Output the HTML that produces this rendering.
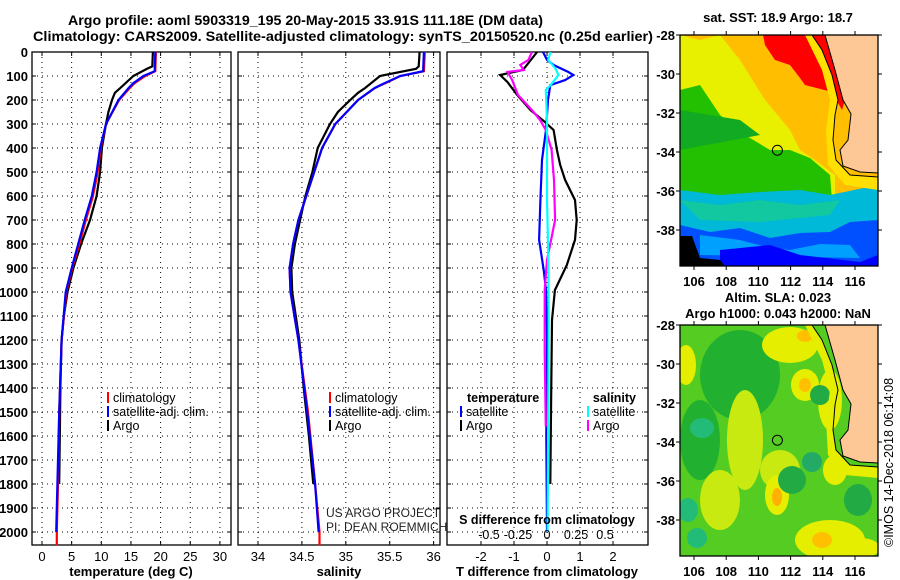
<!DOCTYPE html>
<html><head><meta charset="utf-8"><style>
html,body{margin:0;padding:0;background:#fff}
svg{display:block;font-family:"Liberation Sans",sans-serif}
.b{font-weight:bold}
</style></head><body>
<svg id="s" width="900" height="580" viewBox="0 0 900 580">
<text class="b" x="68" y="25" font-size="14" textLength="475" lengthAdjust="spacingAndGlyphs">Argo profile: aoml 5903319_195 20-May-2015 33.91S 111.18E (DM data)</text>
<text class="b" x="33" y="41" font-size="14" textLength="620" lengthAdjust="spacingAndGlyphs">Climatology: CARS2009. Satellite-adjusted climatology: synTS_20150520.nc (0.25d earlier)</text>
<g id="plots"></g>
<g id="maps"></g>
</svg>
<script>
// ===== data =====
const depthTicks=[0,100,200,300,400,500,600,700,800,900,1000,1100,1200,1300,1400,1500,1600,1700,1800,1900,2000];
const tTicks=[0,5,10,15,20,25,30];
const sTicks=[34,34.5,35,35.5,36];
const dTTicks=[-2,-1,0,1,2];
const dSTicks=[-0.5,-0.25,0,0.25,0.5];
const dSTickLabels=["-0.5","-0.25","0","0.25","0.5"];
// temperature
const argoDepth=[0,60,70,100,150,170,200,250,300,400,500,600,700,800,900,1000,1100,1200,1400,1600,1800];
const argoTemp=[18.7,18.6,17.7,15.4,13.2,12.3,11.8,11.2,10.8,10.1,9.8,9.2,8.1,6.6,5.3,4.3,3.7,3.3,3.1,3.0,2.9];
const climDepth=[0,80,100,130,150,200,300,400,500,600,700,800,900,1000,1200,1500,1800,2000,2055];
const climTemp=[19.2,19.1,17.4,15.6,14.8,13.0,10.8,9.9,9.4,8.6,7.4,6.3,5.1,4.1,3.3,2.9,2.7,2.5,2.5];
const satTemp=[19.1,19.0,17.1,15.4,14.6,12.9,10.8,9.8,9.2,8.4,7.2,6.1,5.0,4.0,3.3,2.9,2.6,2.4];
// salinity
const argoSal=[35.84,35.83,35.8,35.39,35.22,35.14,35.05,34.91,34.82,34.68,34.62,34.54,34.48,34.42,34.38,34.39,34.43,34.47,34.52,34.58,34.63];
const climSal=[35.9,35.89,35.62,35.45,35.33,35.14,34.88,34.73,34.64,34.55,34.46,34.4,34.36,34.37,34.46,34.57,34.65,34.7,34.7];
const satSal=[35.89,35.88,35.62,35.44,35.33,35.14,34.88,34.73,34.64,34.55,34.46,34.4,34.36,34.37,34.46,34.56,34.65,34.69];
// differences
const dArgoTDepth=[0,75,96,125,179,242,292,325,408,471,533,617,700,783,888,992,1117,1500,1800];
const dArgoT=[-0.3,-0.73,-1.42,-1.2,-0.9,-0.5,-0.06,0.2,0.3,0.4,0.55,0.85,0.9,0.85,0.6,0.24,0.15,0.12,0.1];
const dSatTDepth=[0,33,54,83,96,117,138,200,325,450,617,783,908,992,1200,1600,2000];
const dSatT=[-0.12,0,0.2,0.64,0.8,0.55,0.1,0.03,-0.03,-0.15,-0.2,-0.24,-0.1,-0.03,0,-0.02,0];
const dArgoSDepth=[0,33,54,75,83,117,179,242,283,325,408,533,700,867,992,1250,1560];
const dArgoS=[-0.13,-0.16,-0.23,-0.2,-0.34,-0.3,-0.25,-0.13,-0.06,-0.01,0.04,0.06,0.07,0,-0.02,-0.02,-0.01];
const dSatSDepth=[0,33,67,96,138,158,283,617,825,1117,1500,2000];
const dSatS=[0.03,0.01,0.07,0.1,0.03,-0.01,0,0,0.01,0.015,0.01,0.005];
// ===== axes =====
const NS='http://www.w3.org/2000/svg';
const Y0=52,Y1=545;
const yD=d=>Y0+d*0.24;
const xT=v=>42+v*5.93;
const xS=v=>258+(v-34)*87.8;
const xDT=v=>547+v*33;
const xDS=v=>547+v*116;
const P=document.getElementById('plots');
function el(tag,attrs,parent){const e=document.createElementNS(NS,tag);for(const k in attrs)e.setAttribute(k,attrs[k]);(parent||P).appendChild(e);return e;}
function txt(x,y,s,attrs,parent){const t=el('text',Object.assign({x:x,y:y},attrs||{}),parent);t.textContent=s;return t;}
function panel(name,x0,x1,ticks,xf,labels,ylabels){
  const g=el('g',{});
  
  
  depthTicks.forEach(d=>{el('line',{x1:x0,x2:x1,y1:yD(d),y2:yD(d),stroke:'#000','stroke-width':1,'stroke-dasharray':'1 4'},g);
    el('line',{x1:x0,x2:x0+4,y1:yD(d),y2:yD(d),stroke:'#000'},g);el('line',{x1:x1-4,x2:x1,y1:yD(d),y2:yD(d),stroke:'#000'},g);
    if(ylabels){const t=txt(28,yD(d)+5,String(d),{'font-size':13,'font-weight':'bold','text-anchor':'end'},g);}});
  ticks.forEach((v,i)=>{const x=xf(v);el('line',{x1:x,x2:x,y1:Y0,y2:Y1,stroke:'#000','stroke-dasharray':'1 4'},g);
    el('line',{x1:x,x2:x,y1:Y1-4,y2:Y1,stroke:'#000'},g);el('line',{x1:x,x2:x,y1:Y0,y2:Y0+4,stroke:'#000'},g);
    if(labels){const t=txt(x,561,labels[i],{'font-size':13,'text-anchor':'middle'},g);}});
  el('rect',{x:x0,y:Y0,width:x1-x0,height:Y1-Y0,fill:'none',stroke:'#000','stroke-width':1.3},g);
  return g;
}
function line(g,xs,ds,xf,col,name){
  const p=el('polyline',{points:xs.map((v,i)=>xf(v).toFixed(1)+','+yD(ds[i]).toFixed(1)).join(' '),fill:'none',stroke:col,'stroke-width':2.2},g);
  
  
}
function leg(g,x,y,col,s,name){el('rect',{x:x,y:y-10,width:2,height:11,fill:col},g);const t=txt(x+6,y,s,{'font-size':12.5},g);}
// panel 1
const g1=panel('temperature-panel',32,231,tTicks,xT,tTicks.map(String),true);
line(g1,argoTemp,argoDepth,xT,'#000','argo-temperature-line');
line(g1,climTemp,climDepth,xT,'#f00','climatology-temperature-line');
line(g1,satTemp,climDepth.slice(0,satTemp.length),xT,'#00f','satellite-temperature-line');
leg(g1,107,402,'#f00','climatology','legend-climatology');
leg(g1,107,416,'#00f','satellite-adj. clim.','legend-satellite');
leg(g1,107,430,'#000','Argo','legend-argo');
txt(131,576,'temperature (deg C)',{'font-size':13,'font-weight':'bold','text-anchor':'middle'},g1);
// panel 2
const g2=panel('salinity-panel',238,440,sTicks,xS,sTicks.map(String),false);
line(g2,argoSal,argoDepth,xS,'#000','argo-salinity-line');
line(g2,climSal,climDepth,xS,'#f00','climatology-salinity-line');
line(g2,satSal,climDepth.slice(0,satSal.length),xS,'#00f','satellite-salinity-line');
leg(g2,329,402,'#f00','climatology','legend-climatology-2');
leg(g2,329,416,'#00f','satellite-adj. clim.','legend-satellite-2');
leg(g2,329,430,'#000','Argo','legend-argo-2');
txt(326,517,'US ARGO PROJECT',{'font-size':12,fill:'#222'},g2);
txt(326,531,'PI: DEAN ROEMMICH',{'font-size':12,fill:'#222'},g2);
txt(339,576,'salinity',{'font-size':13,'font-weight':'bold','text-anchor':'middle'},g2);
// panel 3
const g3=panel('difference-panel',447,648,dTTicks,xDT,dTTicks.map(String),false);
line(g3,dArgoT,dArgoTDepth,xDT,'#000','argo-t-diff-line');
line(g3,dSatT,dSatTDepth,xDT,'#00f','satellite-t-diff-line');
line(g3,dArgoS,dArgoSDepth,xDS,'#f0f','argo-s-diff-line');
line(g3,dSatS,dSatSDepth,xDS,'#0ff','satellite-s-diff-line');
txt(467,402,'temperature',{'font-size':12.5,'font-weight':'bold'},g3);
txt(636,402,'salinity',{'font-size':12.5,'font-weight':'bold','text-anchor':'end'},g3);
leg(g3,460,416,'#00f','satellite','legend-t-satellite');
leg(g3,460,430,'#000','Argo','legend-t-argo');
leg(g3,587,416,'#0ff','satellite','legend-s-satellite');
leg(g3,587,430,'#f0f','Argo','legend-s-argo');
txt(547,524,'S difference from climatology',{'font-size':12.5,'font-weight':'bold','text-anchor':'middle'},g3);
dSTicks.forEach((v,i)=>{const t=txt(xDS(v),539,dSTickLabels[i],{'font-size':12.5,'text-anchor':'middle'},g3);});
txt(547,576,'T difference from climatology',{'font-size':13,'font-weight':'bold','text-anchor':'middle'},g3);
// ===== maps =====
const M=document.getElementById('maps');
const lonTicks=[106,108,110,112,114,116];
const latTicks=[-28,-30,-32,-34,-36,-38];
const lonX=v=>694+(v-106)*16.1;
const latY=(v,top)=>top+(-28-v)*19.5;
const land='825,35 878,35 878,173 860,172 843,166 840,150 848,140 851,114 843,100 835,70';
const shelf='812,35 822,50 832,75 838,100 835,115 833,140 836,160 850,175 878,177';
function poly(g,pts,fill,dy){el('polygon',{points:pts.split(' ').map(p=>{const [a,b]=p.split(',');return a+','+(+b+dy);}).join(' '),fill:fill},g);}
function mapFrame(name,top,dy,drawFill){
  const g=el('g',{},M);
  
  
  const cp='cp'+dy;
  const d=el('defs',{},g);const c=el('clipPath',{id:cp},d);el('rect',{x:680,y:top,width:198,height:231},c);
  const inner=el('g',{'clip-path':'url(#'+cp+')'},g);
  drawFill(inner);
  poly(inner,land,'#fdc896',dy);
  el('polygon',{points:land.split(' ').map(p=>{const [a,b]=p.split(',');return a+','+(+b+dy);}).join(' '),fill:'none',stroke:'#000','stroke-width':1},inner);
  el('polyline',{points:shelf.split(' ').map(p=>{const [a,b]=p.split(',');return a+','+(+b+dy);}).join(' '),fill:'none',stroke:'#000','stroke-width':1},inner);
  const c2=el('circle',{cx:lonX(111.18),cy:latY(-33.91,top),r:5,fill:'none',stroke:'#000','stroke-width':1},g);
  
  
  el('rect',{x:680,y:top,width:198,height:231,fill:'none',stroke:'#000','stroke-width':1.3},g);
  lonTicks.forEach(v=>{const x=lonX(v);el('line',{x1:x,x2:x,y1:top,y2:top-4,stroke:'#000'},g);el('line',{x1:x,x2:x,y1:top+231,y2:top+235,stroke:'#000'},g);
    const t=txt(x,top+251,String(v),{'font-size':13,'font-weight':'bold','text-anchor':'middle'},g);});
  latTicks.forEach(v=>{const y=latY(v,top);el('line',{x1:676,x2:680,y1:y,y2:y,stroke:'#000'},g);el('line',{x1:878,x2:882,y1:y,y2:y,stroke:'#000'},g);
    const t=txt(675,y+5,String(v),{'font-size':13,'font-weight':'bold','text-anchor':'end'},g);});
  return g;
}
const m1=mapFrame('sst-map',35,0,g=>{
  el('rect',{x:680,y:35,width:198,height:231,fill:'#ffbe00'},g);
  poly(g,'680,35 700,40 720,35 740,60 765,100 790,130 800,150 815,160 835,175 835,205 680,205','#e8f000',0);
  poly(g,'680,90 700,85 720,115 745,135 770,150 790,150 810,158 830,175 832,200 680,200','#22c000',0);
  poly(g,'680,110 740,120 760,135 680,150','#11aa22',0);
  poly(g,'680,190 720,195 760,192 800,190 830,195 878,185 878,266 680,266','#00b8d8',0);
  poly(g,'680,200 720,205 760,200 800,205 840,200 830,215 760,222 700,220','#11c8a0',0);
  poly(g,'680,225 710,232 740,228 770,238 800,233 830,232 850,222 878,220 878,266 680,266','#0050ff',0);
  poly(g,'700,235 740,240 770,248 790,250 820,244 850,245 860,258 700,255','#00a0ff',0);
  poly(g,'720,250 770,245 800,255 860,262 878,255 878,266 720,266','#0000ff',0);
  poly(g,'680,236 692,236 700,258 720,260 725,266 680,266','#000',0);
  poly(g,'763,35 825,35 835,60 845,100 842,110 832,92 805,85 800,78 790,65 775,60 765,45','#ff0000',0);
  poly(g,'812,35 822,50 832,75 838,100 835,115 833,140 836,160 850,175 878,177 878,190 845,185 828,165 826,130 830,100 822,70 805,35','#ffe000',0);
});
txt(778,22,'sat. SST: 18.9 Argo: 18.7',{'font-size':13,'font-weight':'bold','text-anchor':'middle'},M);
const m2=mapFrame('sla-map',325,290,g=>{
  el('rect',{x:680,y:325,width:198,height:231,fill:'#55cc22'},g);
  const ell=(cx,cy,rx,ry,f)=>el('ellipse',{cx:cx,cy:cy,rx:rx,ry:ry,fill:f},g);
  ell(740,375,40,45,'#22b030');ell(700,440,20,40,'#22b030');
  ell(686,365,10,20,'#e6ee00');ell(790,345,28,18,'#e6ee00');ell(805,336,8,6,'#ffc000');
  ell(805,385,14,16,'#e6ee00');ell(805,385,6,7,'#ffc000');ell(830,400,12,30,'#e6ee00');
  ell(745,440,18,50,'#c8ea10');ell(780,470,20,20,'#c8ea10');ell(777,495,12,20,'#e6ee00');ell(777,497,5,9,'#ffb000');
  ell(720,500,20,30,'#c8ea10');ell(835,470,12,15,'#e6ee00');
  ell(830,540,35,20,'#e6ee00');ell(822,540,10,8,'#ffc000');ell(860,548,20,10,'#e6ee00');
  ell(702,428,12,10,'#22bb77');ell(812,462,10,10,'#22aa66');ell(688,510,10,12,'#22bb77');ell(697,538,10,10,'#22bb77');
  ell(820,395,10,10,'#22aa44');ell(858,500,14,16,'#22aa44');ell(792,480,14,14,'#22aa44');
  poly(g,'812,35 822,50 832,75 838,100 835,115 833,140 836,160 850,175 878,177 878,188 845,185 828,165 826,130 830,100 822,70 805,35','#e6ee00',290);
});
txt(778,302,'Altim. SLA: 0.023',{'font-size':13,'font-weight':'bold','text-anchor':'middle'},M);
txt(778,318,'Argo h1000: 0.043 h2000: NaN',{'font-size':13,'font-weight':'bold','text-anchor':'middle'},M);
const im=txt(0,0,'©IMOS 14-Dec-2018 06:14:08',{'font-size':12.5,transform:'translate(893,547) rotate(-90)'},M);


</script>
</body></html>
